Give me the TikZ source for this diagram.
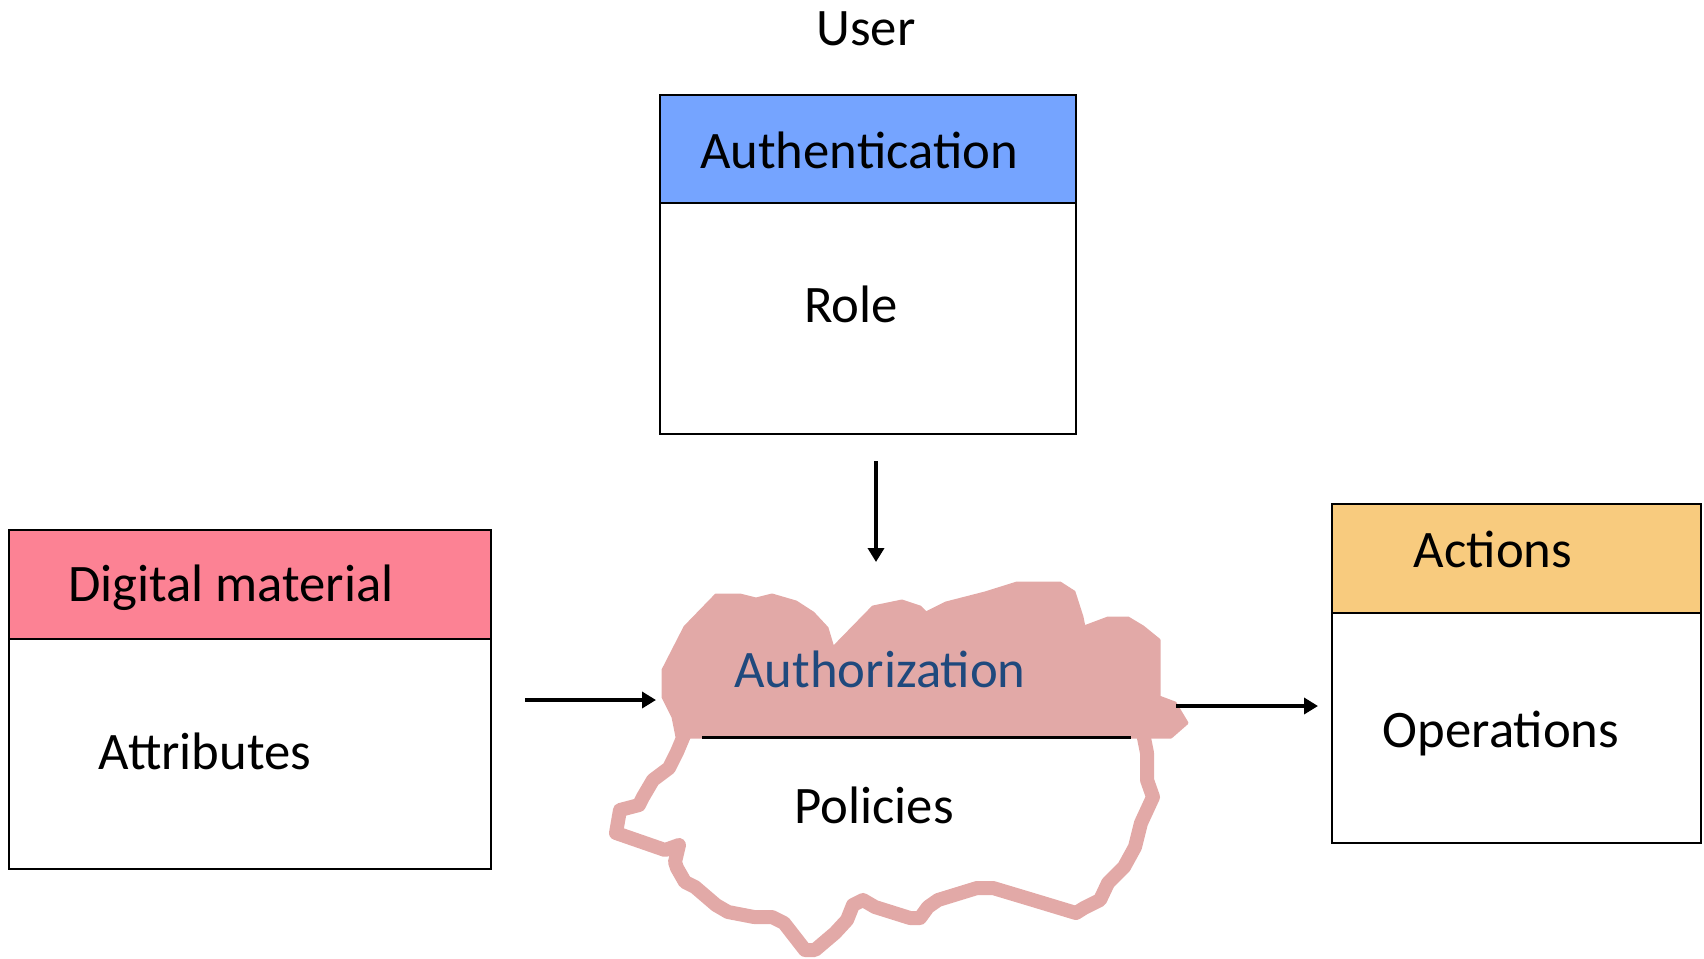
\documentclass[tikz,border=0pt]{standalone}
\usepackage{fontspec}
\setmainfont{Carlito}
\usetikzlibrary{arrows.meta}
\definecolor{authblue}{RGB}{117,164,255}
\definecolor{digpink}{RGB}{252,130,148}
\definecolor{actorange}{RGB}{248,203,126}
\definecolor{cloudpink}{RGB}{226,169,167}
\definecolor{authtext}{RGB}{31,73,125}
\tikzset{
  every node/.style={font=\fontsize{52.7}{63}\selectfont, inner sep=0pt},
  boxpart/.style={draw=black, line width=2.5pt, rectangle},
  lbl/.style={anchor=base},
  arr/.style={draw=black, line width=4.5pt, -{Triangle[length=14pt,width=16pt]}},
  cloudline/.style={draw=cloudpink, line width=14pt, line join=round, line cap=round}
}
\begin{document}
\begin{tikzpicture}[x=1pt,y=-1pt]
\useasboundingbox (0,0) rectangle (1704,958);
% cloud
\fill[cloudpink, draw=cloudpink, line width=3pt, line join=round]
 (663,697) -- (663,670) -- (685,627) -- (716,595) -- (740,595) -- (756,599) -- (772,595)
 -- (796,602) -- (813,613) -- (827,628) -- (833,648) -- (873,607) -- (902,601) -- (920,607)
 -- (926,613) -- (946,603) -- (985,593) -- (1017,583) -- (1060,583) -- (1074,592) -- (1082,617)
 -- (1084,627) -- (1108,618) -- (1128,618) -- (1143,627) -- (1159,640) -- (1159,697)
 -- (1175,703) -- (1187,723) -- (1171,737) -- (1155,737) -- (677,737) -- (673,717) -- cycle;
\draw[cloudline] (1143,733) -- (1147,753) -- (1147,780) -- (1153,797) -- (1141,823) -- (1135,847)
 -- (1124,867) -- (1108,883) -- (1100,900) -- (1084,908) -- (1076,913) -- (1033,900) -- (993,888)
 -- (977,888) -- (938,900) -- (928,907) -- (920,918) -- (910,918) -- (875,907) -- (863,900)
 -- (853,905) -- (847,920) -- (835,933) -- (815,950) -- (805,950) -- (784,923) -- (772,917)
 -- (754,917) -- (728,912) -- (716,905) -- (695,887) -- (685,882) -- (677,868) -- (675,862)
 -- (679,845) -- (665,850) -- (616,833) -- (620,810) -- (639,805) -- (643,797) -- (653,780)
 -- (669,768) -- (677,752) -- (685,733);
\coordinate (sepL) at (702,737);
\coordinate (sepR) at (1131,737);
\draw[black, line width=3pt] (sepL) -- (sepR);
\node[lbl, text=authtext] (authz) at (880,687) {Authorization};
\node[lbl] (pol) at (874,823) {Policies};
% user / authentication
\node[lbl] (user) at (866,46) {User};
\node[boxpart, fill=authblue, minimum width=416pt, minimum height=108pt] (authH) at (868,149) {};
\node[boxpart, fill=white, minimum width=416pt, minimum height=231pt] (authB) at (868,318.5) {};
\node[lbl] (authT) at (859,168) {Authentication};
\node[lbl] (role) at (851,322) {Role};
% digital material
\node[boxpart, fill=digpink, minimum width=482pt, minimum height=109pt] (digH) at (250,584.5) {};
\node[boxpart, fill=white, minimum width=482pt, minimum height=230pt] (digB) at (250,754) {};
\node[lbl] (digT) at (231,601) {Digital material};
\node[lbl] (attr) at (205,769) {Attributes};
% actions
\node[boxpart, fill=actorange, minimum width=369pt, minimum height=109pt] (actH) at (1516.5,558.5) {};
\node[boxpart, fill=white, minimum width=369pt, minimum height=230pt] (actB) at (1516.5,728) {};
\node[lbl] (actT) at (1493,567) {Actions};
\node[lbl] (ops) at (1501,747) {Operations};
% arrows
\coordinate (a1s) at (876,461);
\coordinate (a1e) at (876,562);
\coordinate (a2s) at (525,700);
\coordinate (a2e) at (656,700);
\coordinate (a3s) at (1176,706);
\coordinate (a3e) at (1318,706);
\draw[arr] (a1s) -- (a1e);
\draw[arr] (a2s) -- (a2e);
\draw[arr] (a3s) -- (a3e);
\end{tikzpicture}
\end{document}
